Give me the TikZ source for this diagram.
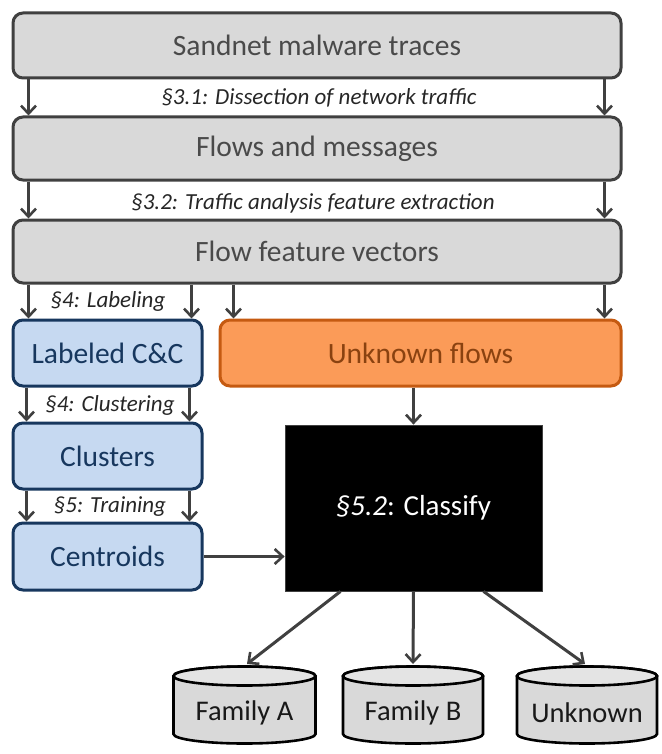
\documentclass[tikz,border=0pt]{standalone}
\usepackage{fontspec}
\setmainfont{Carlito}
\usetikzlibrary{calc,arrows.meta}
\definecolor{gfill}{HTML}{D9D9D9}
\definecolor{gline}{HTML}{404040}
\definecolor{gtext}{HTML}{4A4A4A}
\definecolor{bfill}{HTML}{C6D9F1}
\definecolor{bline}{HTML}{17375E}
\definecolor{ofill}{HTML}{FB9B58}
\definecolor{oline}{HTML}{C55A11}
\definecolor{otext}{HTML}{8A4210}
\tikzset{
  box/.style={rounded corners=10pt, line width=3pt, inner sep=0pt, font=\fontsize{29.5}{32}\selectfont},
  graybox/.style={box, draw=gline, fill=gfill, text=gtext},
  bluebox/.style={box, draw=bline, fill=bfill, text=bline},
  orangebox/.style={box, draw=oline, fill=ofill, text=otext},
  arr/.style={draw=gline, line width=3pt, -{Straight Barb[length=8pt,width=15pt,line width=2.6pt]}},
  lbl/.style={font=\fontsize{23}{25}\selectfont\itshape, text=black!85, inner sep=1pt},
  cyltext/.style={font=\fontsize{28.5}{30}\selectfont, text=black!90, inner sep=0pt, minimum width=142pt, minimum height=78pt},
}
\newcommand{\cyl}[3]{% center x, top y, width
  \pgfmathsetmacro{\rx}{#3/2}
  \filldraw[fill=gfill, draw=black, line width=2.6pt]
    (#1-\rx,#2+10) -- (#1-\rx,#2+68) arc[start angle=180,end angle=360,x radius=\rx pt,y radius=9.5pt]
    -- (#1+\rx,#2+10) arc[start angle=0,end angle=180,x radius=\rx pt,y radius=9.5pt] -- cycle;
  \filldraw[fill=gfill!70!white, draw=black, line width=2.6pt]
    (#1,#2+10) ellipse[x radius=\rx pt,y radius=9.5pt];
}
\begin{document}
\begin{tikzpicture}[x=1pt,y=-1pt]
\useasboundingbox (0,0) rectangle (661,754);
% gray boxes
\node[graybox, minimum width=608pt, minimum height=65pt] (s) at (317,45.5) {Sandnet malware traces};
\node[graybox, minimum width=608pt, minimum height=63pt] (f) at (317,148.5) {Flows and messages};
\node[graybox, minimum width=608pt, minimum height=63pt] (v) at (317,251.5) {Flow feature vectors};
% blue boxes
\node[bluebox, minimum width=189pt, minimum height=66pt] (l) at (107.5,353) {Labeled C\&C};
\node[bluebox, minimum width=189pt, minimum height=66pt] (c) at (107.5,456) {Clusters};
\node[bluebox, minimum width=189pt, minimum height=67pt] (t) at (107.5,556.5) {Centroids};
% orange
\node[orangebox, minimum width=401pt, minimum height=66pt] (u) at (420.5,353) {Unknown flows};
% classify
\node[fill=black, draw=gline, line width=0.8pt, minimum width=257pt, minimum height=166pt, inner sep=0pt, text=white, font=\fontsize{29}{31}\selectfont] (k) at (413.5,508) {\textit{§5.2}: Classify};
% labels
\node[lbl] (l31) at (319,98) {§3.1: Dissection of network traffic};
\node[lbl] (l32) at (313,203) {§3.2: Traffic analysis feature extraction};
\node[lbl] (l4a) at (108,301) {§4: Labeling};
\node[lbl] (l4b) at (110,405) {§4: Clustering};
\node[lbl] (l5) at (110,507) {§5: Training};
% helper coordinates
\coordinate (lr) at ($(l.north east)+(-12,0)$);
\coordinate (ul) at ($(u.north west)+(15,0)$);
% arrows between gray boxes
\draw[arr] ([xshift=17pt]s.south west) -- ([xshift=17pt]f.north west);
\draw[arr] ([xshift=-18pt]s.south east) -- ([xshift=-18pt]f.north east);
\draw[arr] ([xshift=17pt]f.south west) -- ([xshift=17pt]v.north west);
\draw[arr] ([xshift=-18pt]f.south east) -- ([xshift=-18pt]v.north east);
% to labeled and unknown
\draw[arr] ([xshift=17pt]v.south west) -- ([xshift=17pt]l.north west);
\draw[arr] (v.south -| lr) -- (lr);
\draw[arr] (v.south -| ul) -- (ul);
\draw[arr] ([xshift=-18pt]v.south east) -- ([xshift=-18pt]u.north east);
% blue chain
\draw[arr] ([xshift=15pt]l.south west) -- ([xshift=15pt]c.north west);
\draw[arr] ([xshift=-14pt]l.south east) -- ([xshift=-14pt]c.north east);
\draw[arr] ([xshift=15pt]c.south west) -- ([xshift=15pt]t.north west);
\draw[arr] ([xshift=-14pt]c.south east) -- ([xshift=-14pt]t.north east);
% to classify
\draw[arr] (t.east) -- (k.west |- t.east);
\draw[arr] (u.south -| k.north) -- (k.north);
% cylinders
\cyl{244.5}{666}{142}
\cyl{413}{666}{140}
\cyl{587}{666}{140}
\node[cyltext] (fa) at (244.5,713) {Family A};
\node[cyltext] (fb) at (413,713) {Family B};
\node[cyltext] (fu) at (587,713) {Unknown};
\coordinate (fat) at (247,664);
\coordinate (fbt) at (413,664);
\coordinate (fut) at (585,664);
\draw[arr] ([xshift=-73pt]k.south) -- (fat);
\draw[arr] (k.south) -- (fbt);
\draw[arr] ([xshift=70pt]k.south) -- (fut);
\end{tikzpicture}
\end{document}
